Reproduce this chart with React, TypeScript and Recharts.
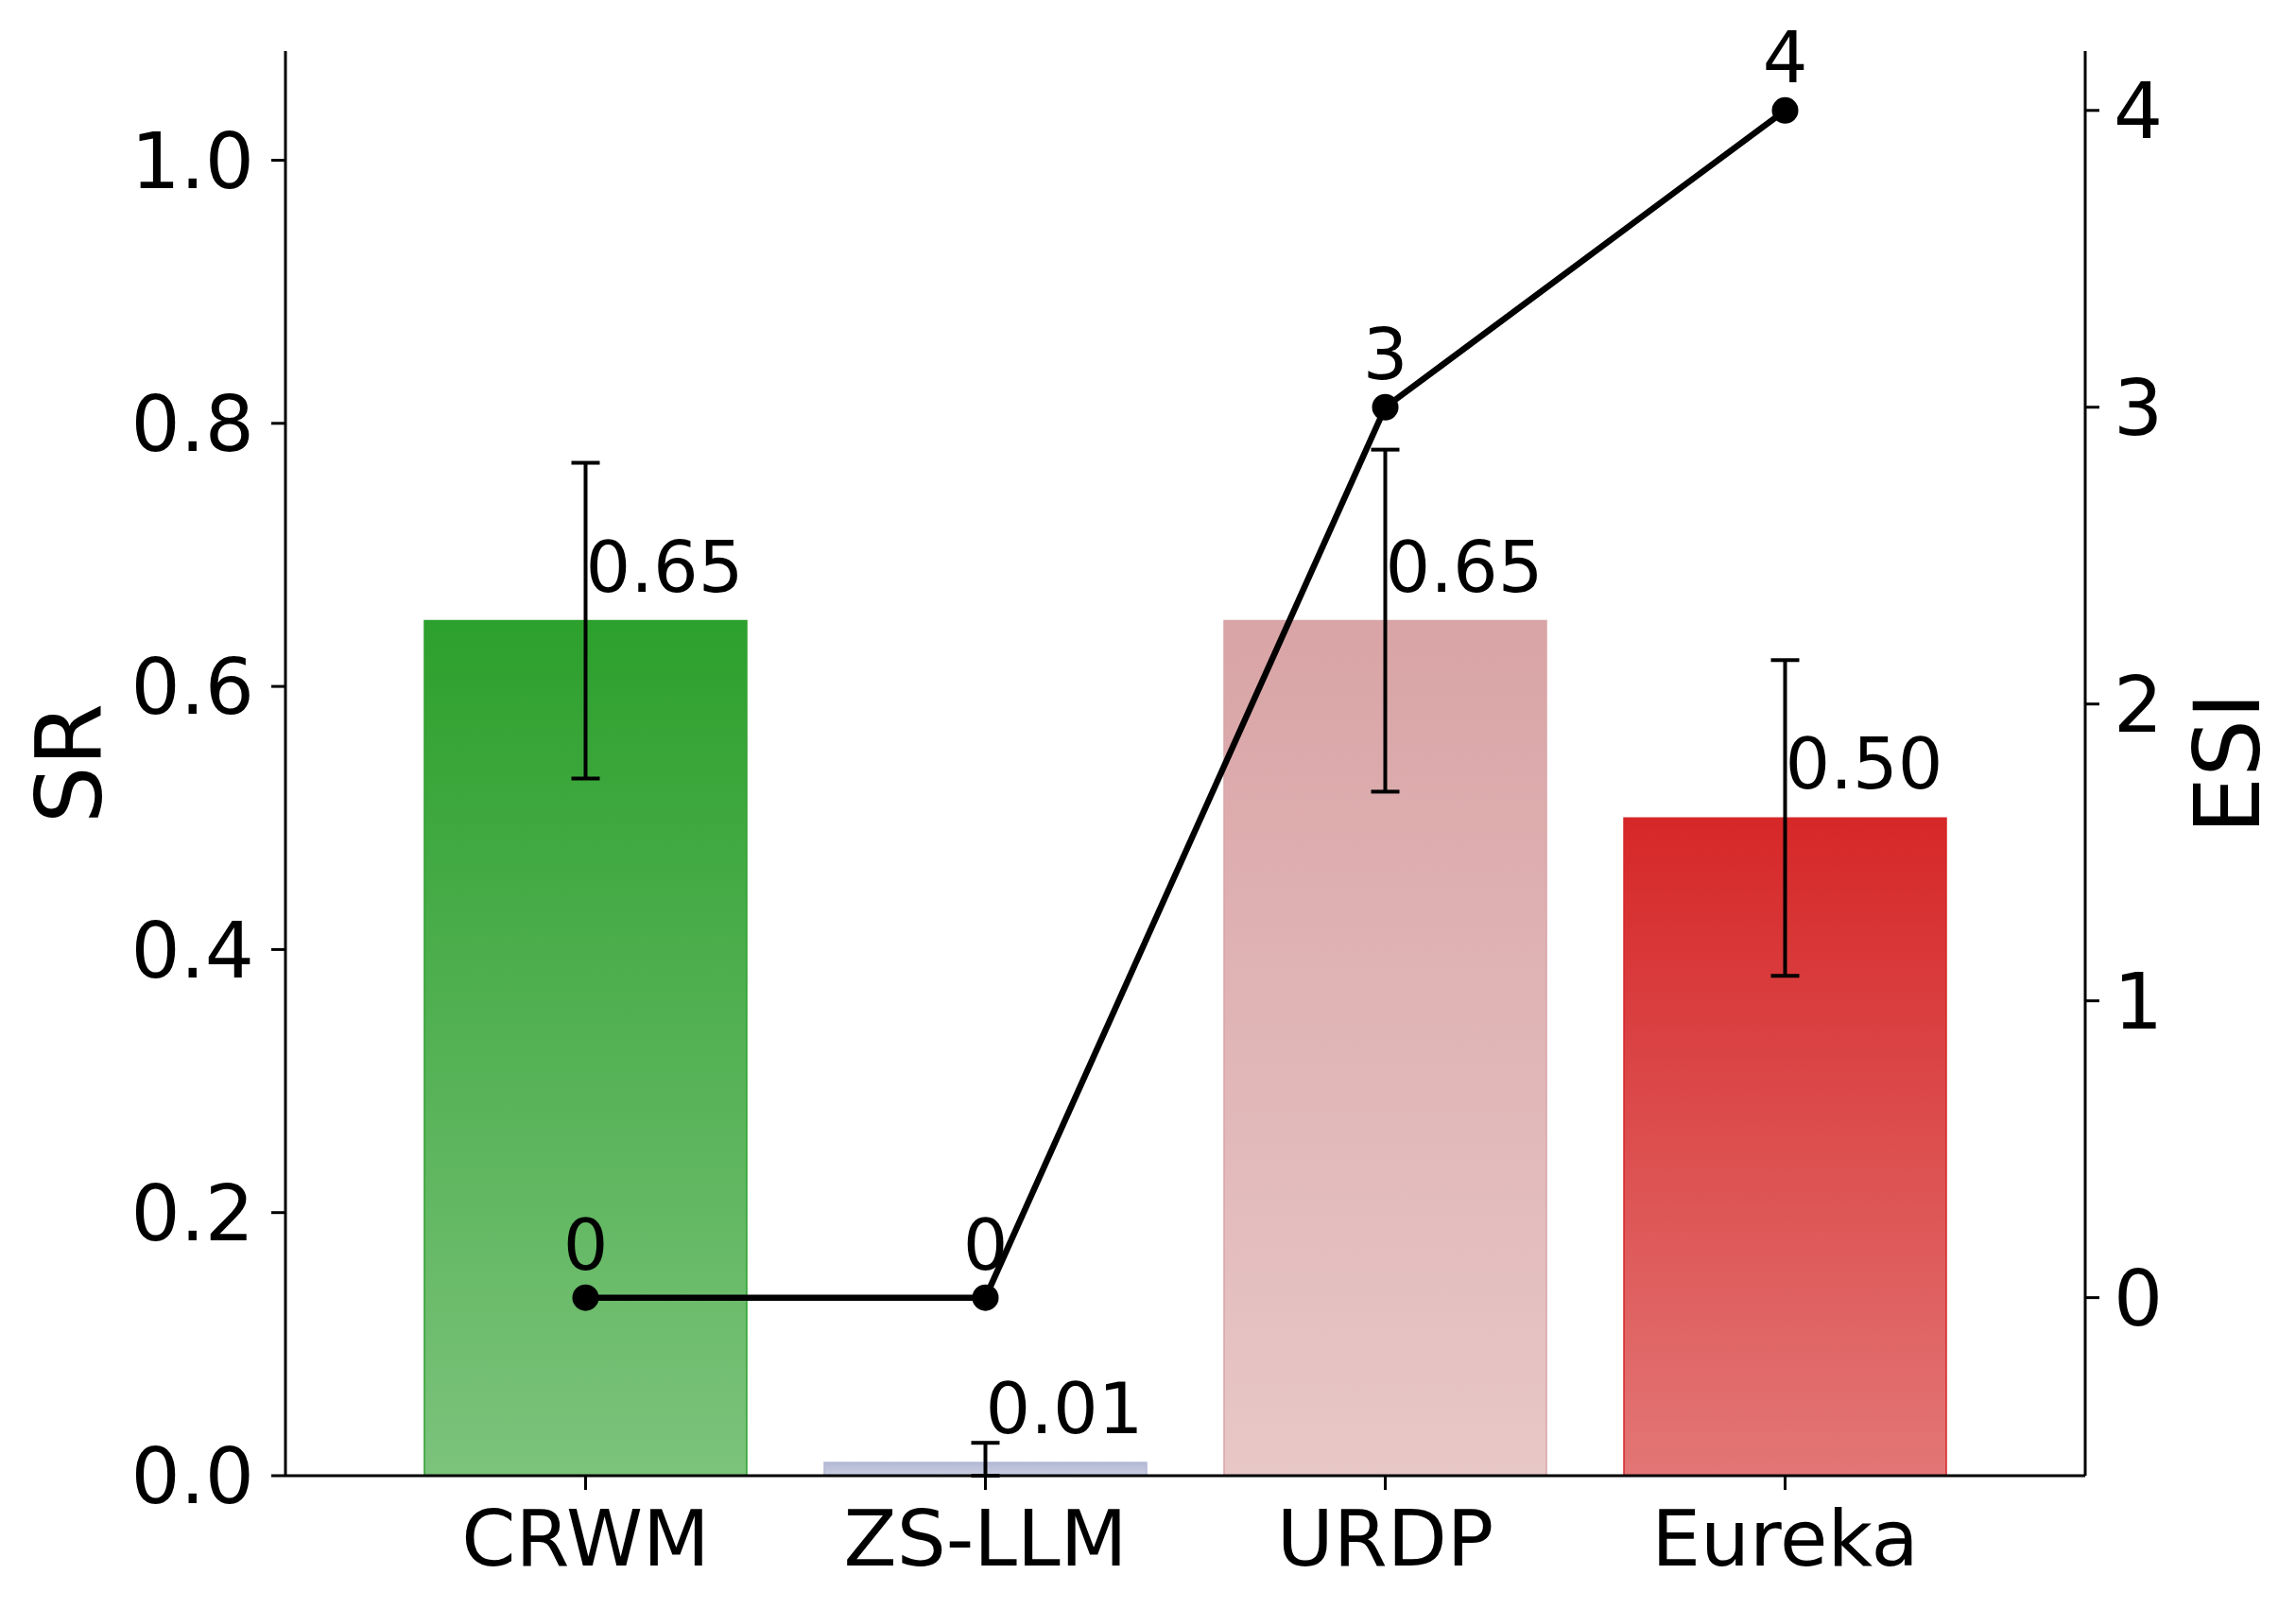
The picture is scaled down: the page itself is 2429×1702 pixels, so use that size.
import React from 'react';
import {
  ComposedChart,
  Bar,
  Line,
  XAxis,
  YAxis,
  ErrorBar,
  Cell,
  LabelList,
  Label,
} from 'recharts';

const categories = ['CRWM', 'ZS-LLM', 'URDP', 'Eureka'];
const srValues = [0.65, 0.01, 0.65, 0.5];
const srErrLow = [0.12, 0.01, 0.13, 0.12];
const srErrHigh = [0.12, 0.015, 0.13, 0.12];
const esiValues = [0, 0, 3, 4];
const srTicks = [0, 0.2, 0.4, 0.6, 0.8, 1.0];
const esiTicks = [0, 1, 2, 3, 4];
const barTopColors = ['#2ca02c', '#b3b9d5', '#d9a4a6', '#d62728'];
const barBottomColors = ['#7cc37c', '#cbcfe2', '#e8c7c7', '#e37676'];

const data = categories.map((name, i) => ({
  name,
  sr: srValues[i],
  srErr: [srErrLow[i], srErrHigh[i]],
  esi: esiValues[i],
}));

const FONT = '"DejaVu Sans", sans-serif';

const BarValueLabel = (props: any) => {
  const x = props.x ?? props.viewBox?.x;
  const y = props.y ?? props.viewBox?.y;
  const width = props.width ?? props.viewBox?.width;
  const value = props.value;
  return (
    <text
      x={x + width / 2}
      y={y - 31}
      textAnchor="start"
      fontSize={75}
      fontFamily={FONT}
      fill="#000"
    >
      {Number(value).toFixed(2)}
    </text>
  );
};

const PointLabel = (props: any) => {
  const x = props.x ?? props.viewBox?.x;
  const y = props.y ?? props.viewBox?.y;
  return (
    <text
      x={x}
      y={y - 30}
      textAnchor="middle"
      fontSize={75}
      fontFamily={FONT}
      fill="#000"
    >
      {props.value}
    </text>
  );
};

const LeftAxisTitle = (props: any) => {
  const vb = props.viewBox;
  const cx = vb.x + 74;
  const cy = vb.y + vb.height / 2;
  return (
    <text
      x={cx}
      y={cy}
      transform={`rotate(-90, ${cx}, ${cy})`}
      textAnchor="middle"
      dominantBaseline="central"
      fontSize={96}
      fontFamily={FONT}
      fill="#000"
    >
      SR
    </text>
  );
};

const RightAxisTitle = (props: any) => {
  const vb = props.viewBox;
  const cx = vb.x + 151;
  const cy = vb.y + vb.height / 2;
  return (
    <text
      x={cx}
      y={cy}
      transform={`rotate(-90, ${cx}, ${cy})`}
      textAnchor="middle"
      dominantBaseline="central"
      fontSize={96}
      fontFamily={FONT}
      fill="#000"
    >
      ESI
    </text>
  );
};

export default function App() {
  return (
    <div style={{ position: 'absolute', left: 0, top: 0, width: 2429, height: 1702, background: '#fff' }}>
      <ComposedChart
        width={2429}
        height={1702}
        data={data}
        margin={{ top: 54, right: 0, bottom: 0, left: 0 }}
      >
        <defs>
          {categories.map((c, i) => (
            <linearGradient key={c} id={`grad${i}`} x1="0" y1="0" x2="0" y2="1">
              <stop offset="0%" stopColor={barTopColors[i]} />
              <stop offset="100%" stopColor={barBottomColors[i]} />
            </linearGradient>
          ))}
        </defs>
        <XAxis
          dataKey="name"
          type="category"
          height={141}
          padding={{ left: 106, right: 106 }}
          stroke="#000"
          axisLine={{ stroke: '#000', strokeWidth: 3 }}
          tickLine={{ stroke: '#000', strokeWidth: 3 }}
          tickSize={15}
          tickMargin={22}
          tick={{ fontSize: 82, fontFamily: FONT, fill: '#000' }}
          interval={0}
        />
        <YAxis
          yAxisId="left"
          orientation="left"
          width={302}
          domain={[0, 1.083]}
          ticks={srTicks}
          allowDataOverflow
          tickFormatter={(v: number) => v.toFixed(1)}
          stroke="#000"
          axisLine={{ stroke: '#000', strokeWidth: 3 }}
          tickLine={{ stroke: '#000', strokeWidth: 3 }}
          tickSize={15}
          tickMargin={18}
          tick={{ fontSize: 82, fontFamily: FONT, fill: '#000' }}
        >
          <Label content={<LeftAxisTitle />} />
        </YAxis>
        <YAxis
          yAxisId="right"
          orientation="right"
          width={223}
          domain={[-0.6, 4.2]}
          ticks={esiTicks}
          allowDataOverflow
          stroke="#000"
          axisLine={{ stroke: '#000', strokeWidth: 3 }}
          tickLine={{ stroke: '#000', strokeWidth: 3 }}
          tickSize={15}
          tickMargin={15}
          tick={{ fontSize: 82, fontFamily: FONT, fill: '#000' }}
        >
          <Label content={<RightAxisTitle />} />
        </YAxis>
        <Bar
          yAxisId="left"
          dataKey="sr"
          barSize={341}
          isAnimationActive={false}
        >
          {categories.map((c, i) => (
            <Cell key={c} fill={`url(#grad${i})`} stroke={barTopColors[i]} strokeWidth={1.5} />
          ))}
          <ErrorBar dataKey="srErr" direction="y" width={15} strokeWidth={4} stroke="#000" />
          <LabelList dataKey="sr" content={<BarValueLabel />} />
        </Bar>
        <Line
          yAxisId="right"
          dataKey="esi"
          type="linear"
          stroke="#000"
          strokeWidth={6.5}
          dot={{ r: 14, fill: '#000', stroke: '#000', strokeWidth: 0 }}
          activeDot={false}
          isAnimationActive={false}
        >
          <LabelList dataKey="esi" content={<PointLabel />} />
        </Line>
      </ComposedChart>
    </div>
  );
}
